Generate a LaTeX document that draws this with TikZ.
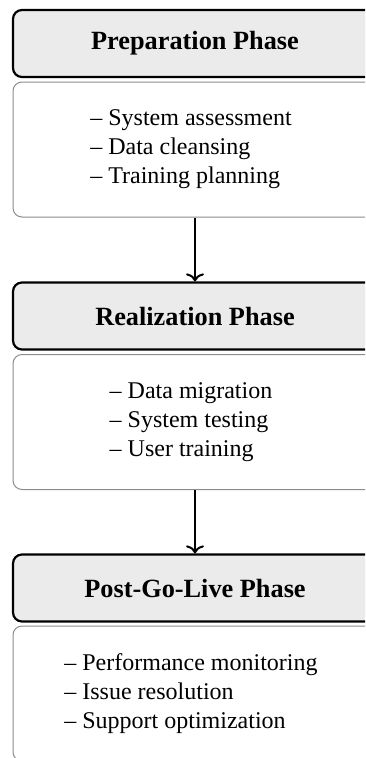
\documentclass[tikz,border=0pt]{standalone}
\usepackage{fontspec}
\setmainfont{Liberation Serif}
\usetikzlibrary{arrows.meta}
\definecolor{headgray}{HTML}{EBEBEB}
\definecolor{bodyline}{HTML}{8C8C8C}
\begin{document}
\begin{tikzpicture}[x=1pt,y=-1pt,
  phasehead/.style={draw=black, line width=2.2pt, fill=headgray, rounded corners=9pt,
    minimum width=364pt, minimum height=67pt, inner sep=0pt,
    font=\fontsize{26.3}{31}\selectfont\bfseries},
  phasebody/.style={draw=bodyline, line width=1pt, rounded corners=9pt,
    minimum width=364pt, minimum height=135pt, inner sep=0pt},
  tasklist/.style={align=left, inner sep=0pt, font=\fontsize{24}{29}\selectfont},
  flow/.style={line width=2pt, -{Computer Modern Rightarrow[length=8pt,width=18pt]}}
]
\path[use as bounding box, clip] (0,0) rectangle (365,758);

% phase headers and their task boxes
\node[phasehead] (h1) at (195,43.5) {Preparation Phase};
\node[phasebody] (b1) at (195,149.5) {};
\node[tasklist]  (t1) at (191,149.5) {-- System assessment\\-- Data cleansing\\-- Training planning};

\node[phasehead] (h2) at (195,316) {Realization Phase};
\node[phasebody] (b2) at (195,422) {};
\node[tasklist]  (t2) at (191,422) {-- Data migration\\-- System testing\\-- User training};

\node[phasehead] (h3) at (195,588) {Post-Go-Live Phase};
\node[phasebody] (b3) at (195,693.5) {};
\node[tasklist]  (t3) at (191,693.5) {-- Performance monitoring\\-- Issue resolution\\-- Support optimization};

% transitions between phases
\draw[flow] (b1.south) -- (h2.north);
\draw[flow] (b2.south) -- (h3.north);
\end{tikzpicture}
\end{document}
